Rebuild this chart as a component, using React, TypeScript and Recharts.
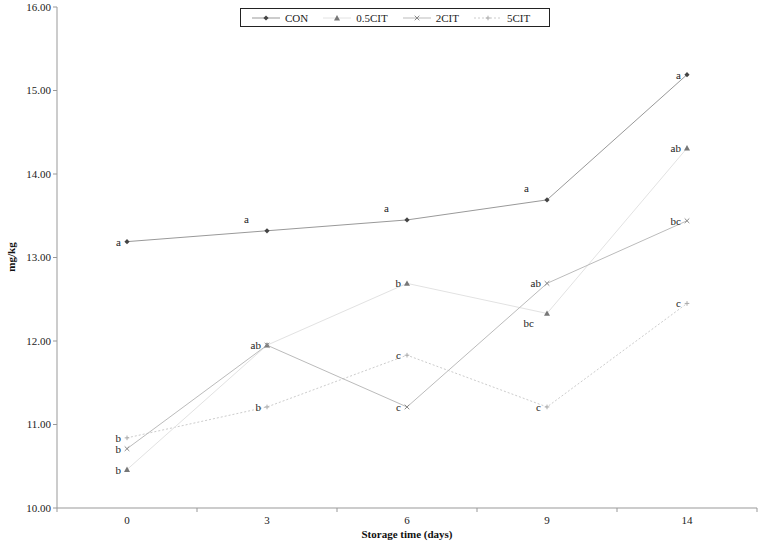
import { LineChart, Line, XAxis, YAxis, LabelList } from 'recharts';

const days = ['0', '3', '6', '9', '14'];
const conValues = [13.19, 13.32, 13.45, 13.69, 15.19];
const cit05Values = [10.46, 11.95, 12.69, 12.33, 14.31];
const cit2Values = [10.71, 11.95, 11.21, 12.69, 13.44];
const cit5Values = [10.84, 11.21, 11.83, 11.21, 12.45];

const conLetters = ['a', 'a', 'a', 'a', 'a'];
const cit05Letters = ['b', 'ab', 'b', 'bc', 'ab'];
const cit2Letters = ['b', '', 'c', 'ab', 'bc'];
const cit5Letters = ['b', 'b', 'c', 'c', 'c'];

// where each letter sits relative to its point
const conPlace = ['left', 'above', 'above', 'above', 'left'];
const cit05Place = ['left', 'left', 'left', 'below', 'left'];
const plainPlace = ['left', 'left', 'left', 'left', 'left'];

const yTicks = [10, 11, 12, 13, 14, 15, 16];

const data = days.map((d, i) => ({
  day: d,
  CON: conValues[i],
  CIT05: cit05Values[i],
  CIT2: cit2Values[i],
  CIT5: cit5Values[i],
}));

const FONT = "'Liberation Serif', 'Times New Roman', serif";
const W = 766;
const H = 547;
const M = { top: 7, right: 9, bottom: 0, left: 0 };
const Y_AXIS_W = 57;
const X_AXIS_H = 39;
const STEP = (W - M.left - M.right - Y_AXIS_W) / days.length;

const Diamond = ({ cx, cy, size = 2.6, color = '#444' }: any) => (
  <path d={`M${cx},${cy - size}L${cx + size},${cy}L${cx},${cy + size}L${cx - size},${cy}Z`} fill={color} />
);
const Triangle = ({ cx, cy, size = 3, color = '#777' }: any) => (
  <path d={`M${cx},${cy - size}L${cx + size},${cy + size * 0.8}L${cx - size},${cy + size * 0.8}Z`} fill={color} />
);
const Cross = ({ cx, cy, size = 2.3, color = '#888' }: any) => (
  <path d={`M${cx - size},${cy - size}L${cx + size},${cy + size}M${cx + size},${cy - size}L${cx - size},${cy + size}`} stroke={color} strokeWidth={1} fill="none" />
);
const Plus = ({ cx, cy, size = 2.3, color = '#aaa' }: any) => (
  <path d={`M${cx - size},${cy}L${cx + size},${cy}M${cx},${cy - size}L${cx},${cy + size}`} stroke={color} strokeWidth={1} fill="none" />
);

const letterLabel = (letters: string[], places: string[]) => (props: any) => {
  const { x, y, index } = props;
  const t = letters[index];
  if (!t) return null;
  const p = places[index];
  let tx = x - 6;
  let ty = y + 4;
  if (p === 'above') { tx = x - 18; ty = y - 8; }
  if (p === 'below') { tx = x - 13; ty = y + 14; }
  return (
    <text key={`l${index}`} x={tx} y={ty} textAnchor="end" fontSize={11} fontFamily={FONT} fill="#222">{t}</text>
  );
};

const XTick = ({ x, y, payload, index }: any) => {
  const axisY = H - X_AXIS_H;
  return (
    <g>
      <line x1={x - STEP / 2} x2={x - STEP / 2} y1={axisY} y2={axisY + 4} stroke="#999" />
      {index === days.length - 1 && (
        <line x1={x + STEP / 2} x2={x + STEP / 2} y1={axisY} y2={axisY + 4} stroke="#999" />
      )}
      <text x={x} y={y} dy={10} textAnchor="middle" fontSize={11} fontFamily={FONT} fill="#222">{payload.value}</text>
    </g>
  );
};

const YTitle = () => (
  <text x={15} y={257} transform="rotate(-90 15 257)" textAnchor="middle" fontSize={11} fontWeight="bold" fontFamily={FONT} fill="#111">mg/kg</text>
);

const legendItems = [
  { name: 'CON', stroke: '#999', dash: undefined, Mark: Diamond },
  { name: '0.5CIT', stroke: '#e2e2e2', dash: undefined, Mark: Triangle },
  { name: '2CIT', stroke: '#bbb', dash: undefined, Mark: Cross },
  { name: '5CIT', stroke: '#ccc', dash: '2 2', Mark: Plus },
];

const LegendBox = () => (
  <div style={{
    position: 'absolute', left: 240, top: 8, width: 310, height: 19,
    border: '1px solid #222', background: '#fff', display: 'flex', alignItems: 'center',
    paddingLeft: 10, boxSizing: 'border-box', gap: 14, fontFamily: FONT, fontSize: 11, color: '#222',
  }}>
    {legendItems.map(({ name, stroke, dash, Mark }) => (
      <div key={name} style={{ display: 'flex', alignItems: 'center', gap: 4 }}>
        <svg width={30} height={10}>
          <line x1={1} x2={29} y1={5} y2={5} stroke={stroke} strokeDasharray={dash} />
          <Mark cx={15} cy={5} />
        </svg>
        <span>{name}</span>
      </div>
    ))}
  </div>
);

export default function App() {
  return (
    <div style={{ position: 'absolute', left: 0, top: 0, width: W, height: H, background: '#fff' }}>
      <LineChart width={W} height={H} data={data} margin={M}>
        <XAxis
          dataKey="day"
          height={X_AXIS_H}
          stroke="#999"
          padding={{ left: STEP / 2, right: STEP / 2 }}
          tickLine={false}
          tickSize={4}
          tick={<XTick />}
          label={{ value: 'Storage time (days)', position: 'insideBottom', offset: 9, fontSize: 11, fontWeight: 'bold', fontFamily: FONT, fill: '#111' }}
        />
        <YAxis
          width={Y_AXIS_W}
          domain={[10, 16]}
          ticks={yTicks}
          interval={0}
          stroke="#999"
          tickSize={4}
          tickFormatter={(v: number) => v.toFixed(2)}
          tick={{ fontSize: 11, fontFamily: FONT, fill: '#222' }}
          label={<YTitle />}
        />
        <Line dataKey="CIT5" stroke="#ccc" strokeDasharray="2 2" strokeWidth={1} isAnimationActive={false}
          dot={(p: any) => <Plus key={p.index} cx={p.cx} cy={p.cy} />}>
          <LabelList content={letterLabel(cit5Letters, plainPlace)} />
        </Line>
        <Line dataKey="CIT05" stroke="#e2e2e2" strokeWidth={1} isAnimationActive={false}
          dot={(p: any) => <Triangle key={p.index} cx={p.cx} cy={p.cy} />}>
          <LabelList content={letterLabel(cit05Letters, cit05Place)} />
        </Line>
        <Line dataKey="CIT2" stroke="#bbb" strokeWidth={1} isAnimationActive={false}
          dot={(p: any) => <Cross key={p.index} cx={p.cx} cy={p.cy} />}>
          <LabelList content={letterLabel(cit2Letters, plainPlace)} />
        </Line>
        <Line dataKey="CON" stroke="#999" strokeWidth={1} isAnimationActive={false}
          dot={(p: any) => <Diamond key={p.index} cx={p.cx} cy={p.cy} />}>
          <LabelList content={letterLabel(conLetters, conPlace)} />
        </Line>
      </LineChart>
      <LegendBox />
    </div>
  );
}
